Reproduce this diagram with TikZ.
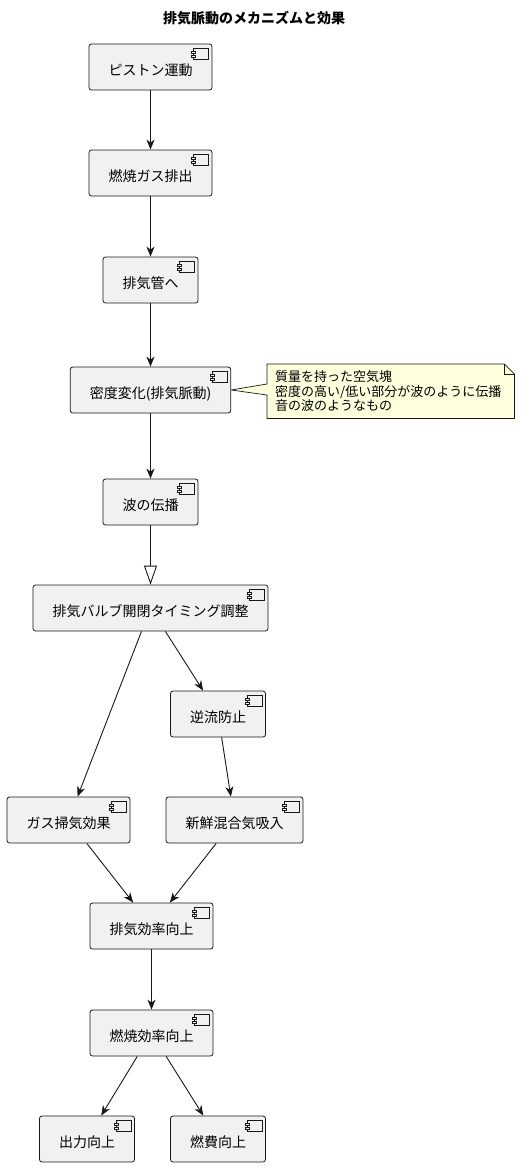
\documentclass[tikz,border=0pt]{standalone}
\usepackage{fontspec}
\setmainfont{Noto Sans CJK JP}
\usetikzlibrary{arrows.meta,calc,backgrounds}
\definecolor{boxfill}{HTML}{F1F1F1}
\definecolor{linec}{HTML}{181818}
\definecolor{notefill}{HTML}{FEFFDD}
\begin{document}
\begin{tikzpicture}[x=1pt,y=-1pt,
    comp/.style={draw=linec,fill=boxfill,rounded corners=2.5pt,line width=0.8pt,
        minimum height=46pt,inner xsep=19.5pt,text height=18pt,text depth=1pt,
        font=\fontsize{14}{16}\selectfont},
    icon/.style={draw=linec,fill=boxfill,line width=0.5pt},
    arr/.style={draw=linec,line width=0.9pt,-{Stealth[length=10pt,width=8pt,inset=3pt]}},
    notetext/.style={align=left,text width=231pt,inner xsep=8pt,minimum height=54pt,
        font=\fontsize{13}{14.5}\selectfont},
    noteline/.style={draw=linec,line width=0.7pt}]
        \useasboundingbox (0,0) rectangle (520,1167);
        \node[font=\fontsize{14}{16}\selectfont\bfseries] (title) at (254,18) {排気脈動のメカニズムと効果};
        \foreach \n/\x/\y/\t in {pist/150.5/67/ピストン運動, burn/150.5/173/燃焼ガス排出,
            pipe/150.5/280/排気管へ, dens/150.5/390/密度変化(排気脈動), wave/150.5/502/波の伝播,
            valve/150.5/608/排気バルブ開閉タイミング調整, back/218/714/逆流防止,
            scav/68.5/820/ガス掃気効果, fresh/234.5/820/新鮮混合気吸入,
            exh/151.5/926/排気効率向上, comb/151.5/1033/燃焼効率向上,
            power/87/1139/出力向上, fuel/218/1139/燃費向上} {
            \node[comp] (\n) at (\x,\y) {\t};
            \draw[icon] ([shift={(-19,5)}]\n.north east) rectangle ++(15,11);
            \draw[icon] ([shift={(-21,7.5)}]\n.north east) rectangle ++(4,2);
            \draw[icon] ([shift={(-21,11.5)}]\n.north east) rectangle ++(4,2);
        }
        % note beside the density box
        \node[notetext,anchor=north west] (note) at (267,364) {質量を持った空気塊\\密度の高い/低い部分が波のように伝播\\音の波のようなもの};
        \begin{scope}[on background layer]
            \draw[noteline,fill=notefill] (note.north west) -- ($(note.north east)+(-10,0)$)
                -- ($(note.north east)+(0,10)$) -- (note.south east) -- (note.south west)
                -- ($(note.north west)+(0,31)$) -- (dens.east) -- ($(note.north west)+(0,20)$) -- cycle;
            \draw[noteline] ($(note.north east)+(-10,0)$) -- ($(note.north east)+(-10,10)$) -- ($(note.north east)+(0,10)$);
        \end{scope}
        % connectors
        \foreach \a/\b in {pist/burn,burn/pipe,pipe/dens,dens/wave,valve/scav,valve/back,
            back/fresh,scav/exh,fresh/exh,exh/comb,comb/power,comb/fuel}
            \draw[arr] (\a) -- (\b);
        \draw[draw=linec,line width=0.9pt,-{Triangle[open,length=19pt,width=13pt]}] (wave) -- (valve);
\end{tikzpicture}
\end{document}
